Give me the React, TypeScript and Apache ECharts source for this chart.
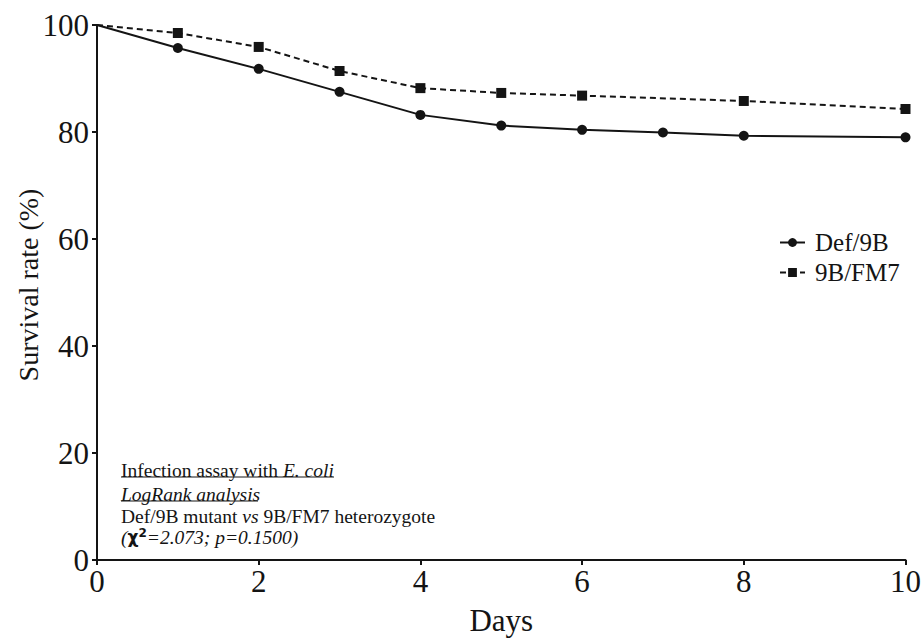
import React, { useEffect, useRef } from "react";
import * as echarts from "echarts";

// Survival over time for the two genotypes
const defDays = [0, 1, 2, 3, 4, 5, 6, 7, 8, 10];
const defSurvival = [100, 95.7, 91.8, 87.5, 83.2, 81.2, 80.4, 79.9, 79.3, 79.0];
const fm7Days = [0, 1, 2, 3, 4, 5, 6, 8, 10];
const fm7Survival = [100, 98.5, 95.9, 91.4, 88.2, 87.3, 86.8, 85.8, 84.3];

const seriesNames = ["Def/9B", "9B/FM7"];
const yTicks = [0, 20, 40, 60, 80, 100];
const xTicks = [0, 2, 4, 6, 8, 10];

const SERIF = "'Liberation Serif', 'Times New Roman', serif";
const INK = "#141414";
const ANN_SIZE = 19.5;

// first point (day 0) carries no marker
const toPoints = (xs: number[], ys: number[]) =>
  xs.map((x, i) =>
    i === 0 ? { value: [x, ys[i]], symbol: "none" } : { value: [x, ys[i]] }
  );

export default function App() {
  const ref = useRef<HTMLDivElement>(null);

  useEffect(() => {
    document.body.style.margin = "0";
    const chart = echarts.init(ref.current!, undefined, { renderer: "svg" });
    const ann = { fontFamily: SERIF, fontSize: ANN_SIZE, fill: INK, lineHeight: 20 };
    const normal = { fontFamily: SERIF, fontSize: ANN_SIZE, fill: INK, lineHeight: 20 };
    const italic = { ...normal, fontStyle: "italic" };
    chart.setOption({
      animation: false,
      backgroundColor: "#ffffff",
      grid: { left: 97, right: 17, top: 25, bottom: 78 },
      legend: {
        data: seriesNames,
        orient: "vertical",
        left: 774,
        top: 225,
        itemWidth: 25,
        itemHeight: 11,
        itemGap: 5,
        textStyle: {
          fontFamily: SERIF,
          fontSize: 25,
          color: INK,
          padding: [0, 0, 0, 5],
        },
      },
      xAxis: {
        type: "value",
        min: xTicks[0],
        max: xTicks[xTicks.length - 1],
        interval: 2,
        name: "Days",
        nameLocation: "middle",
        nameGap: 45,
        nameTextStyle: { fontFamily: SERIF, fontSize: 31, color: INK },
        axisLine: { lineStyle: { color: INK, width: 2 } },
        axisTick: { show: true, length: 5, lineStyle: { color: INK, width: 2 } },
        axisLabel: { fontFamily: SERIF, fontSize: 31, color: INK, margin: 6 },
        splitLine: { show: false },
      },
      yAxis: {
        type: "value",
        min: yTicks[0],
        max: yTicks[yTicks.length - 1],
        interval: 20,
        axisLine: { show: true, lineStyle: { color: INK, width: 2 } },
        axisTick: { show: true, length: 5, lineStyle: { color: INK, width: 2 } },
        axisLabel: { fontFamily: SERIF, fontSize: 31, color: INK, margin: 8 },
        splitLine: { show: false },
      },
      series: [
        {
          name: seriesNames[0],
          type: "line",
          data: toPoints(defDays, defSurvival),
          symbol: "circle",
          symbolSize: 10,
          color: INK,
          lineStyle: { color: INK, width: 2 },
          itemStyle: { color: INK },
        },
        {
          name: seriesNames[1],
          type: "line",
          data: toPoints(fm7Days, fm7Survival),
          symbol: "rect",
          symbolSize: 10,
          color: INK,
          lineStyle: { color: INK, width: 2, type: [6, 4] },
          itemStyle: { color: INK },
        },
      ],
      graphic: [
        {
          type: "text",
          x: 28,
          y: 285,
          rotation: Math.PI / 2,
          style: {
            text: "Survival rate (%)",
            fontFamily: SERIF,
            fontSize: 28,
            fill: INK,
            align: "center",
            verticalAlign: "middle",
          },
        },
        {
          type: "text",
          left: 121,
          top: 460,
          style: {
            ...ann,
            rich: { n: normal, i: italic },
            text: "{n|Infection assay with }{i|E. coli}",
          },
        },
        {
          type: "line",
          shape: { x1: 121, y1: 477, x2: 334, y2: 477 },
          style: { stroke: INK, lineWidth: 1 },
        },
        {
          type: "text",
          left: 121,
          top: 484,
          style: { ...ann, fontStyle: "italic", text: "LogRank analysis" },
        },
        {
          type: "line",
          shape: { x1: 121, y1: 501, x2: 258, y2: 501 },
          style: { stroke: INK, lineWidth: 1 },
        },
        {
          type: "text",
          left: 121,
          top: 506,
          style: {
            ...ann,
            rich: { n: normal, i: italic },
            text: "{n|Def/9B mutant }{i|vs}{n| 9B/FM7 heterozygote}",
          },
        },
        {
          type: "text",
          left: 121,
          top: 527,
          style: {
            ...ann,
            rich: {
              i: italic,
              c: {
                fontFamily: "'DejaVu Sans', sans-serif",
                fontSize: 17,
                fontWeight: "bold",
                fill: INK,
                lineHeight: 20,
              },
              s: {
                fontFamily: "'DejaVu Sans', sans-serif",
                fontSize: 12,
                fontWeight: "bold",
                fill: INK,
                verticalAlign: "top",
                lineHeight: 12,
              },
            },
            text: "{i|(}{c|χ}{s|2}{i|=2.073; p=0.1500)}",
          },
        },
      ],
    });
    return () => chart.dispose();
  }, []);

  return <div ref={ref} style={{ width: 924, height: 641 }} />;
}
